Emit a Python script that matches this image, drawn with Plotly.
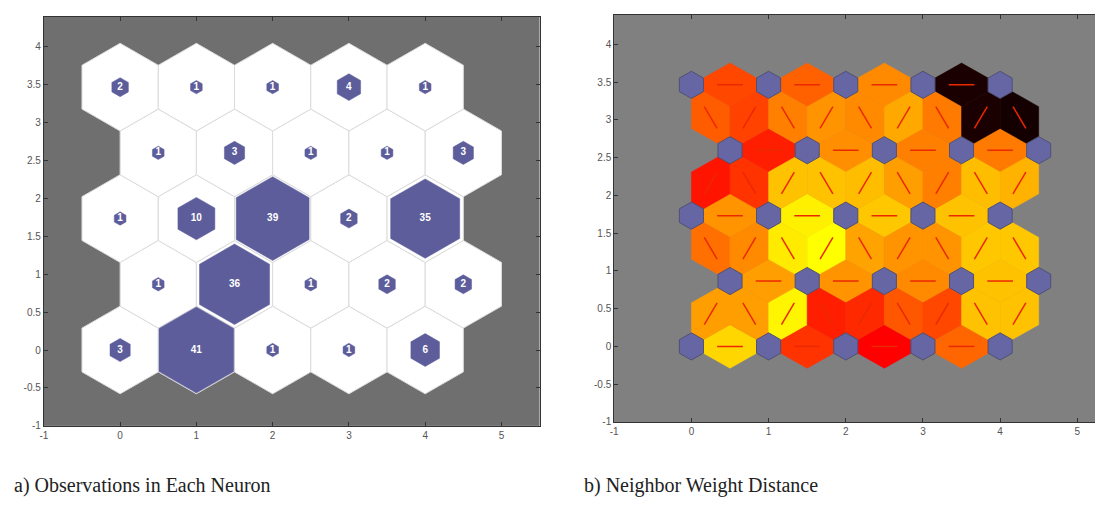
import math
import plotly.graph_objects as go

# ---------------- data ----------------
# SOM 5x5 hexagonal grid, rows listed from bottom (y=0) to top
hits_row0 = [3, 41, 1, 1, 6]
hits_row1 = [1, 36, 1, 2, 2]
hits_row2 = [1, 10, 39, 2, 35]
hits_row3 = [1, 3, 1, 1, 3]
hits_row4 = [2, 1, 1, 4, 1]
hits_rows = [hits_row0, hits_row1, hits_row2, hits_row3, hits_row4]

# neighbor weight distances (normalised 0 = smallest/yellow, 1 = largest/black)
# horizontal neighbours inside each row (left to right)
nd_horiz_row0 = [0.08, 0.40, 0.50, 0.30]
nd_horiz_row1 = [0.19, 0.21, 0.23, 0.12]
nd_horiz_row2 = [0.21, 0.03, 0.11, 0.12]
nd_horiz_row3 = [0.44, 0.22, 0.25, 0.26]
nd_horiz_row4 = [0.36, 0.31, 0.23, 0.95]
nd_horiz = [nd_horiz_row0, nd_horiz_row1, nd_horiz_row2, nd_horiz_row3, nd_horiz_row4]
# diagonal neighbours between row r and r+1 (left to right)
nd_diag_01 = [0.19, 0.19, 0.02, 0.44, 0.42, 0.33, 0.36, 0.12, 0.12]
nd_diag_12 = [0.28, 0.23, 0.04, 0.00, 0.18, 0.21, 0.21, 0.11, 0.11]
nd_diag_23 = [0.46, 0.40, 0.12, 0.12, 0.13, 0.19, 0.25, 0.13, 0.15]
nd_diag_34 = [0.32, 0.37, 0.25, 0.21, 0.23, 0.17, 0.26, 0.95, 0.96]
nd_diag = [nd_diag_01, nd_diag_12, nd_diag_23, nd_diag_34]

x_ticks = [-1, 0, 1, 2, 3, 4, 5]
y_ticks = [-1, -0.5, 0, 0.5, 1, 1.5, 2, 2.5, 3, 3.5, 4]
caption_a = "a) Observations in Each Neuron"
caption_b = "b) Neighbor Weight Distance"

# ---------------- helpers ----------------
H = math.sqrt(3) / 2
R_CELL = 1 / math.sqrt(3)
R_NEURON = 0.18


def pos(c, r):
    return c + 0.5 * (r % 2), r * H


def hexagon(cx, cy, rad):
    xs, ys = [], []
    for k in range(7):
        a = math.radians(90 + 60 * k)
        xs.append(cx + rad * math.cos(a))
        ys.append(cy + rad * math.sin(a))
    return xs, ys


def nd_color(d):
    lvl = 1 - d
    red = min(2 * lvl, 1.0)
    green = max(2 * lvl - 1, 0.0)
    return "rgb(%d,%d,0)" % (round(255 * red), round(255 * green))


fig = go.Figure()

# ---------------- panel a: hits ----------------
for r, row in enumerate(hits_rows):
    for c, h in enumerate(row):
        cx, cy = pos(c, r)
        xs, ys = hexagon(cx, cy, R_CELL)
        fig.add_trace(go.Scatter(x=xs, y=ys, fill="toself", fillcolor="white",
                                 mode="lines", line=dict(color="#dcdcdc", width=1),
                                 xaxis="x", yaxis="y", hoverinfo="skip", showlegend=False))
maxhit = max(max(r) for r in hits_rows)
tx, ty, tt = [], [], []
for r, row in enumerate(hits_rows):
    for c, h in enumerate(row):
        cx, cy = pos(c, r)
        xs, ys = hexagon(cx, cy, R_CELL * math.sqrt(h / maxhit) * 0.98)
        fig.add_trace(go.Scatter(x=xs, y=ys, fill="toself", fillcolor="#5d5d9b",
                                 mode="lines", line=dict(color="#5d5d9b", width=0.5),
                                 xaxis="x", yaxis="y", hoverinfo="skip", showlegend=False))
        tx.append(cx)
        ty.append(cy)
        tt.append(str(h))
fig.add_trace(go.Scatter(x=tx, y=ty, text=tt, mode="text",
                         textfont=dict(color="white", size=10, family="Arial", weight="bold"),
                         xaxis="x", yaxis="y", hoverinfo="skip", showlegend=False))

# ---------------- panel b: neighbor distances ----------------
edges = []  # (P, Q, d)
for r, row in enumerate(nd_horiz):
    for c, d in enumerate(row):
        edges.append((pos(c, r), pos(c + 1, r), d))
for r, row in enumerate(nd_diag):
    off = 0.5 * (r % 2)
    for k, d in enumerate(row):
        m = 0.25 + 0.5 * k
        left, right = m - 0.25, m + 0.25
        if abs((left - off) - round(left - off)) < 1e-9:
            P = (left, r * H)
            Q = (right, (r + 1) * H)
        else:
            P = (right, r * H)
            Q = (left, (r + 1) * H)
        edges.append((P, Q, d))

CENT = 1 / (2 * math.sqrt(3))
lx, ly = [], []
for P, Q, d in edges:
    mx, my = (P[0] + Q[0]) / 2, (P[1] + Q[1]) / 2
    dx, dy = Q[0] - P[0], Q[1] - P[1]
    L = math.hypot(dx, dy)
    nx, ny = -dy / L, dx / L
    xs = [P[0], mx + nx * CENT, Q[0], mx - nx * CENT, P[0]]
    ys = [P[1], my + ny * CENT, Q[1], my - ny * CENT, P[1]]
    col = nd_color(d)
    fig.add_trace(go.Scatter(x=xs, y=ys, fill="toself", fillcolor=col,
                             mode="lines", line=dict(color=col, width=0.5),
                             xaxis="x2", yaxis="y2", hoverinfo="skip", showlegend=False))
    lx += [(2 * P[0] + Q[0]) / 3, (P[0] + 2 * Q[0]) / 3, None]
    ly += [(2 * P[1] + Q[1]) / 3, (P[1] + 2 * Q[1]) / 3, None]

fig.add_trace(go.Scatter(x=lx, y=ly, mode="lines", line=dict(color="rgb(235,40,0)", width=1.5),
                         xaxis="x2", yaxis="y2", hoverinfo="skip", showlegend=False))

for r in range(5):
    for c in range(5):
        cx, cy = pos(c, r)
        xs, ys = hexagon(cx, cy, R_NEURON)
        fig.add_trace(go.Scatter(x=xs, y=ys, fill="toself", fillcolor="rgb(102,102,164)",
                                 mode="lines", line=dict(color="rgb(80,80,115)", width=1),
                                 xaxis="x2", yaxis="y2", hoverinfo="skip", showlegend=False))

# ---------------- layout ----------------
# the page body has an 8px margin, so the figure is sized/positioned to compensate
OFF = 8
W, HT = 1103 - OFF, 505 - OFF


def px_x(p):
    return (p - OFF) / W


def px_y(p):
    return 1 - (p - OFF) / HT


def ax_common(vals):
    return dict(tickmode="array", tickvals=vals, ticktext=["%g" % v for v in vals],
                ticks="inside", ticklen=4, tickcolor="#333", showline=True, linecolor="#333",
                linewidth=1, mirror="ticks", showgrid=False, zeroline=False,
                tickfont=dict(size=10, color="#555", family="Arial"))


fig.update_layout(
    width=W, height=HT, margin=dict(l=0, r=0, t=0, b=0),
    paper_bgcolor="white", plot_bgcolor="#6f6f6f",
    xaxis=dict(domain=[px_x(40), px_x(538)], range=[-1, 5.5], anchor="y", **ax_common(x_ticks)),
    yaxis=dict(domain=[px_y(431), px_y(17)], range=[-1, 4.39], anchor="x", **ax_common(y_ticks)),
    xaxis2=dict(domain=[px_x(613), 1.0], range=[-1, 5.32], anchor="y2", **ax_common(x_ticks)),
    yaxis2=dict(domain=[px_y(427), px_y(15)], range=[-1, 4.39], anchor="x2", **ax_common(y_ticks)),
)
fig.add_shape(type="rect", xref="x2 domain", yref="y2 domain", x0=0, x1=1, y0=0, y1=1,
              fillcolor="#808080", line=dict(width=0), layer="below")

fig.add_annotation(text=caption_a, xref="paper", yref="paper", x=0, y=px_y(491),
                   xanchor="left", yanchor="middle", showarrow=False,
                   font=dict(family="Liberation Serif, serif", size=20, color="#222"))
fig.add_annotation(text=caption_b, xref="paper", yref="paper", x=px_x(581), y=px_y(491),
                   xanchor="left", yanchor="middle", showarrow=False,
                   font=dict(family="Liberation Serif, serif", size=20, color="#222"))

fig.write_html("out.html")
